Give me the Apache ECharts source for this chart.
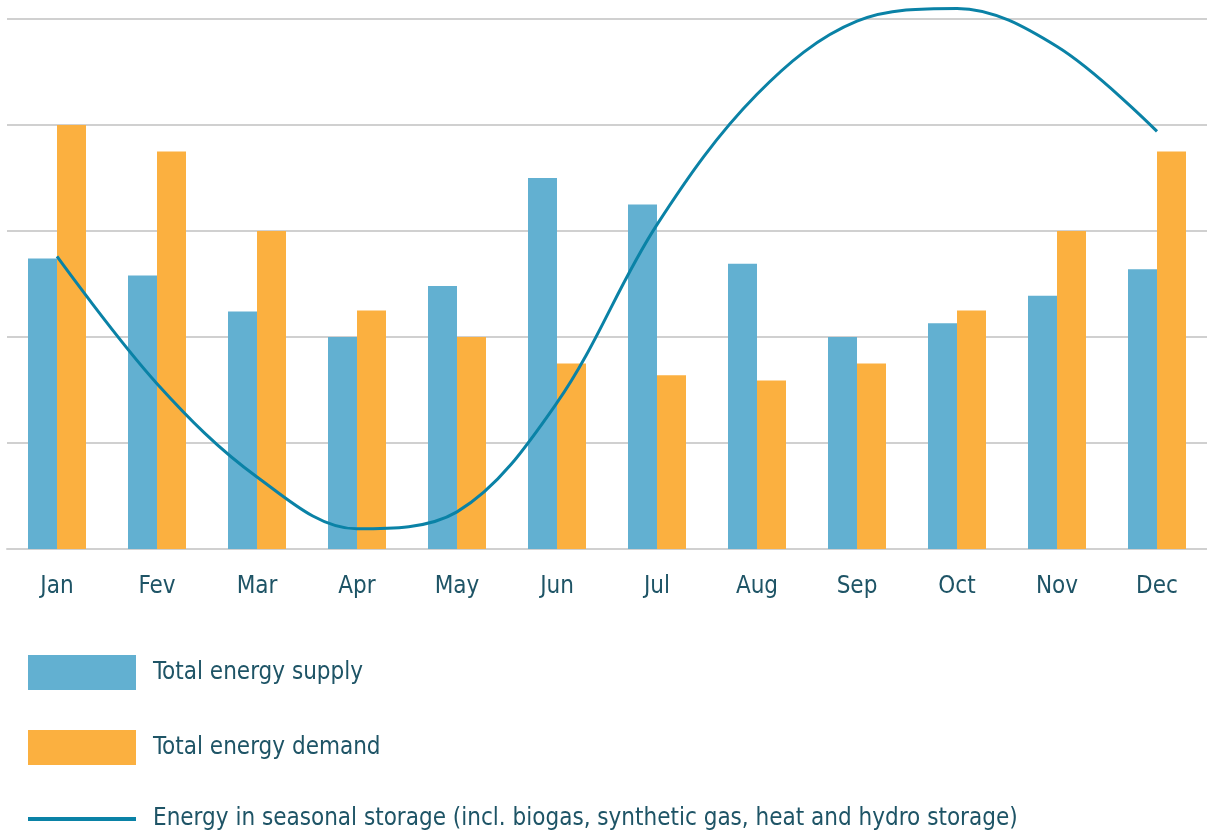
<!DOCTYPE html>
<html>
<head>
<meta charset="utf-8">
<script src="https://cdn.jsdelivr.net/npm/echarts@6/dist/echarts.min.js"></script>
<style>
html,body{margin:0;padding:0;background:#fff;}
#chart{width:1207px;height:838px;}
</style>
</head>
<body>
<div id="chart"></div>
<script>
var months = ['Jan','Fev','Mar','Apr','May','Jun','Jul','Aug','Sep','Oct','Nov','Dec'];
var supply = [2.74, 2.58, 2.24, 2.0, 2.48, 3.5, 3.25, 2.69, 2.0, 2.13, 2.39, 2.64];
var demand = [4.0, 3.75, 3.0, 2.25, 2.0, 1.75, 1.64, 1.59, 1.75, 2.25, 3.0, 3.75];
var storage = [2.76, 1.56, 0.68, 0.19, 0.35, 1.38, 3.06, 4.29, 4.98, 5.10, 4.74, 3.94];
var seriesNames = ['Total energy supply', 'Total energy demand', 'Energy in seasonal storage (incl. biogas, synthetic gas, heat and hydro storage)'];

var FONT = '"Liberation Sans Narrow", "DejaVu Sans Condensed", sans-serif';
var TEXT = '#1e5466';
var LINE = '#0a82a6';

var chart = echarts.init(document.getElementById('chart'));
chart.setOption({
  animation: false,
  backgroundColor: '#fff',
  grid: { left: 7, right: 0, top: 19, bottom: 289, containLabel: false },
  legend: {
    orient: 'vertical',
    left: 26,
    top: 655,
    padding: 0,
    itemWidth: 108,
    itemHeight: 35,
    itemGap: 40,
    textStyle: { fontFamily: FONT, fontSize: 24, color: TEXT, padding: [0, 0, 0, 12] },
    data: [
      { name: seriesNames[0], icon: 'rect' },
      { name: seriesNames[1], icon: 'rect' },
      { name: seriesNames[2], itemStyle: { color: 'rgba(0,0,0,0)', opacity: 0, borderWidth: 0 },
        lineStyle: { color: LINE, width: 4 } }
    ]
  },
  xAxis: {
    type: 'category',
    data: months,
    axisLine: { show: true, lineStyle: { color: '#d0d0d0', width: 2 } },
    axisTick: { show: false },
    axisLabel: { fontFamily: FONT, fontSize: 24, color: TEXT, margin: 26 }
  },
  yAxis: {
    type: 'value',
    min: 0, max: 5, interval: 1,
    axisLabel: { show: false },
    axisLine: { show: false },
    axisTick: { show: false },
    splitLine: { lineStyle: { color: '#d0d0d0', width: 2 } }
  },
  series: [
    { name: seriesNames[0], type: 'bar', data: supply, barWidth: 29, barGap: '0%',
      itemStyle: { color: '#62b0d1' } },
    { name: seriesNames[1], type: 'bar', data: demand, barWidth: 29, barGap: '0%',
      itemStyle: { color: '#fbb040' } },
    { name: seriesNames[2], type: 'line', data: storage, smooth: 0.35, clip: false,
      symbol: 'none', showSymbol: false, z: 5,
      lineStyle: { color: LINE, width: 3 }, itemStyle: { color: LINE } }
  ]
});
</script>
</body>
</html>
